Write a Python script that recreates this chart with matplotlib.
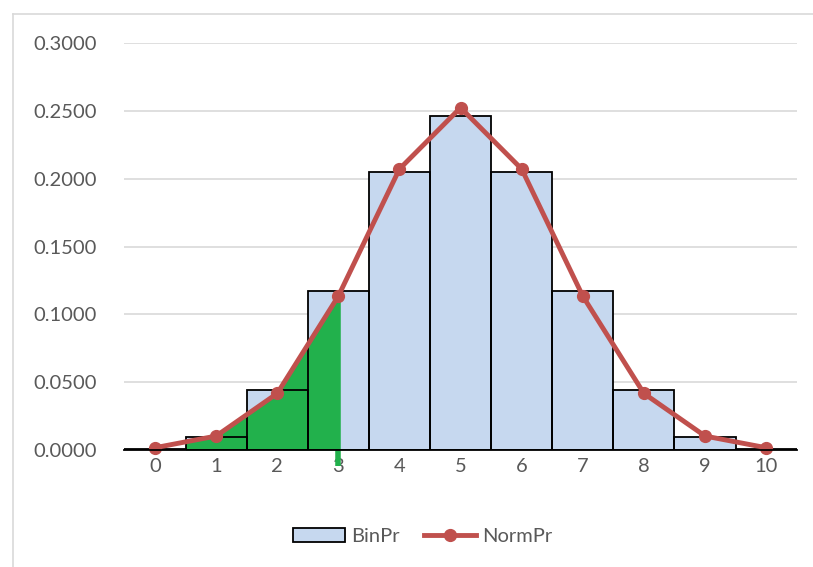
import numpy as np
from matplotlib import pyplot as plt
from matplotlib.patches import Rectangle
from matplotlib.lines import Line2D

# Values
xValues = [0, 1, 2, 3, 4, 5, 6, 7, 8, 9, 10]
binPr = [0.0010, 0.0098, 0.0439, 0.1172, 0.2051, 0.2461,
         0.2051, 0.1172, 0.0439, 0.0098, 0.0010]
normPr = [0.0017, 0.0103, 0.0417, 0.1134, 0.2071, 0.2523,
          0.2071, 0.1134, 0.0417, 0.0103, 0.0017]
yTicks = [0.0, 0.05, 0.10, 0.15, 0.20, 0.25, 0.30]

plt.rcParams['font.family'] = ['Lato', 'DejaVu Sans']

fig = plt.figure(figsize=(8.13, 5.67), dpi=100)
ax = fig.add_axes([0.153, 0.2063, 0.827, 0.7179])

barColor = "#C6D8EF"
lineColor = "#C0504D"
green = "#22B14C"
textColor = "#595959"

# Bars (fill only), then green area, then bar outlines on top
ax.bar(xValues, binPr, width=1.0, color=barColor, edgecolor="none", zorder=2)

# Green area under the normal line from 0.5 to 3
fillX = [0.5, 1, 2, 3]
fillY = [np.interp(0.5, xValues, normPr), normPr[1], normPr[2], normPr[3]]
ax.fill_between(fillX, 0, fillY, color=green, lw=0, zorder=3)
ax.plot([3, 3], [-0.012, normPr[3]], color=green, lw=4, zorder=3,
        clip_on=False, solid_capstyle="butt")

ax.bar(xValues, binPr, width=1.0, color="none", edgecolor="black",
       linewidth=1.3, zorder=4)

ax.plot(xValues, normPr, color=lineColor, lw=3.5, marker="o", ms=8.5,
        zorder=5, clip_on=False)

ax.set_xlim(-0.5, 10.5)
ax.set_ylim(0, 0.3)
ax.set_xticks(xValues)
ax.set_yticks(yTicks)
ax.set_yticklabels(["%.4f" % v for v in yTicks])
ax.tick_params(axis="both", length=0, labelsize=14.5, labelcolor=textColor)
ax.tick_params(axis="x", pad=6)
ax.tick_params(axis="y", pad=20)

ax.grid(axis="y", color="#D9D9D9", linewidth=1.2)
ax.set_axisbelow(True)
for side in ["left", "right", "top"]:
    ax.spines[side].set_visible(False)
ax.spines["bottom"].set_color("black")
ax.spines["bottom"].set_linewidth(1.3)
ax.spines["bottom"].set_zorder(6)

# Legend
handles = [Rectangle((0, 0), 1, 1, facecolor=barColor, edgecolor="black",
                     linewidth=1.3),
           Line2D([], [], color=lineColor, lw=3.5, marker="o", ms=8.5)]
fig.legend(handles, ["BinPr", "NormPr"], loc="center",
           bbox_to_anchor=(0.52, 0.053), ncol=2, frameon=False,
           fontsize=14.5, labelcolor=textColor, handlelength=2.6,
           handletextpad=0.3, columnspacing=1.2)

# Light chart border on the left and top
fig.add_artist(Line2D([0.016, 0.016], [0, 0.975], color="#D9D9D9", lw=1.2))
fig.add_artist(Line2D([0.016, 1], [0.975, 0.975], color="#D9D9D9", lw=1.2))

fig.savefig("out.png", dpi=100)
